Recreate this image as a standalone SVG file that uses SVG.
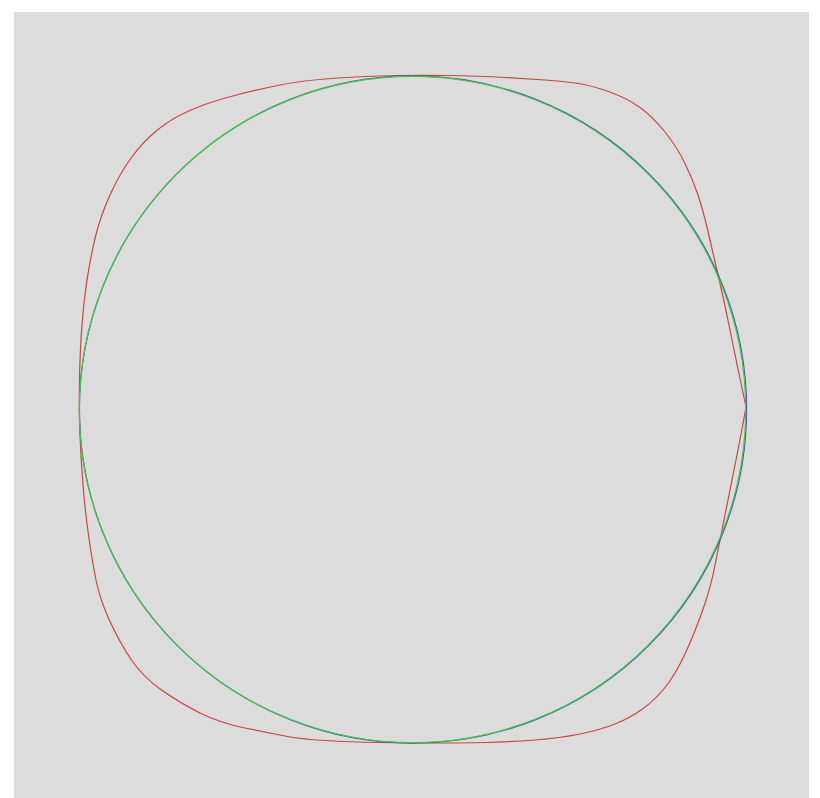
<svg xmlns="http://www.w3.org/2000/svg" width="820" height="798" viewBox="0 0 820 798">
<style>
.bg{fill:#dcdcdc}
.curve{fill:none;stroke-width:1.2;stroke-linejoin:round}
.red{stroke:#c04848}
.blue{stroke:#3c5a9c}
.green{stroke:#4cc24c}
</style>
<rect x="0" y="0" width="820" height="798" fill="#ffffff"/>
<rect class="bg" x="14" y="12" width="795" height="786"/>
<g id="red-shape">
<path class="curve red" d="M445,75.5 Q480,76 505,77.5 Q530,79 545,80 Q560,81 575,83 Q590,85 608.5,91.5 Q627,98 640,107.5 Q653,117 665,132 Q677,147 685,163.5 Q693,180 698,195 Q703,210 708,231.5 Q713,253 719,279 Q725,305 730,330 Q735,355 740.5,381 L746,407 L743,423.5 Q740,440 735,465 Q730,490 724,520 Q718,550 714,570 Q710,590 701.5,613.5 Q693,637 684,656 Q675,675 665,687.5 Q655,700 642.5,709 Q630,718 615,724 Q600,730 580,734 Q560,738 535,740 Q510,742 485,742.5 Q460,743 435,743 Q410,743 380,742.5 Q350,742 325,740.5 Q300,739 285,736 Q270,733 245,728 Q220,723 200,713 Q180,703 161.5,690 Q143,677 131.5,660 Q120,643 110,621.5 Q100,600 96,580 Q92,560 88.5,535 Q85,510 83,485 Q81,460 80,435 Q79,410 79.5,380 Q80,350 82,325 Q84,300 87,280 Q90,260 95,238.5 Q100,217 110,195 Q120,173 131.5,157.5 Q143,142 155,132 Q167,122 178.5,116 Q190,110 203.5,105 Q217,100 238.5,94.5 Q260,89 280,85 Q300,81 325,79 Q350,77 380,76 Q410,75 445,75.5 Z"/>
</g>
<g id="blue-circle">
<circle class="curve blue" cx="413" cy="409.5" r="333.6"/>
</g>
<g id="green-circle">
<circle class="curve green" cx="412.5" cy="409.5" r="333.2"/>
</g>
</svg>
